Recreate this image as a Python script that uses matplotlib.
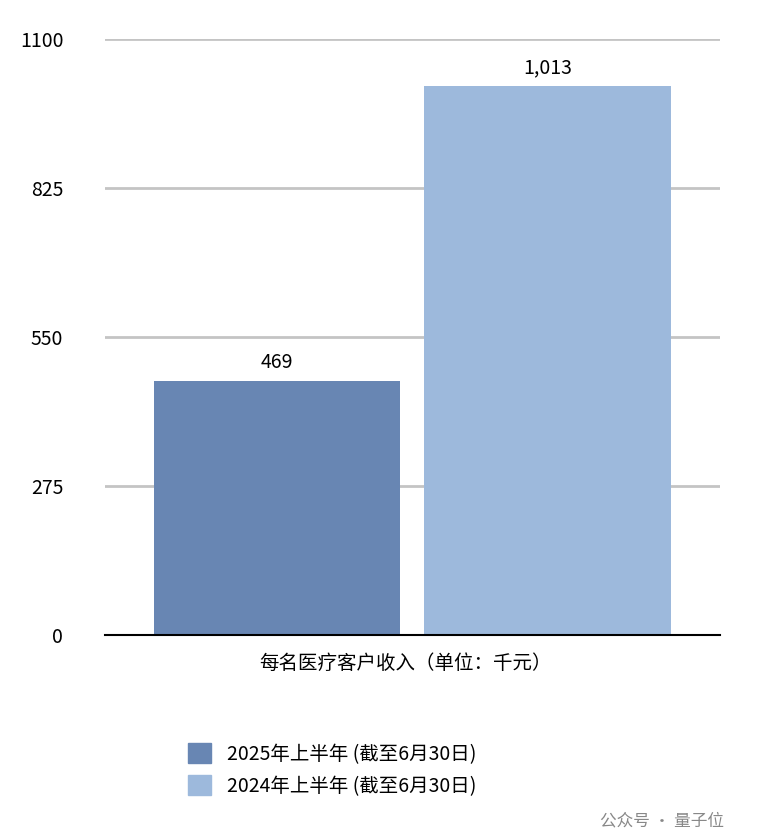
import matplotlib.pyplot as plt
from matplotlib.patches import Patch

plt.rcParams['font.family'] = ['Noto Sans CJK SC', 'DejaVu Sans']

series = ['2025年上半年 (截至6月30日)', '2024年上半年 (截至6月30日)']
values = [469, 1013]
value_labels = ['469', '1,013']
colors = ['#6886b3', '#9db9dc']
category = '每名医疗客户收入（单位：千元）'
yticks = [0, 275, 550, 825, 1100]

fig = plt.figure(figsize=(7.58, 8.38), dpi=100)
ax = fig.add_axes([0.1385, 0.2422, 0.8115, 0.7113])

pos = list(range(len(values)))
bars = ax.bar(pos, values, width=0.91, color=colors, zorder=3)
for b, lab in zip(bars, value_labels):
    ax.text(b.get_x() + b.get_width() / 2, b.get_height() + 15, lab,
            ha='center', va='bottom', fontsize=14)

ax.set_xlim(-0.636, 1.638)
ax.set_ylim(0, 1100)
ax.set_yticks(yticks)
ax.set_yticklabels([str(t) for t in yticks], fontsize=14)
ax.tick_params(axis='y', length=0, pad=30)
ax.set_xticks([])
ax.grid(axis='y', color='#c4c4c4', linewidth=2, zorder=0)
for s in ['top', 'right', 'left']:
    ax.spines[s].set_visible(False)
ax.spines['bottom'].set_linewidth(1.5)
ax.spines['bottom'].set_zorder(4)

fig.text(0.535, 0.208, category, ha='center', va='center', fontsize=14)

handles = [Patch(color=c) for c in colors]
fig.legend(handles, series, loc='center left', bbox_to_anchor=(0.225, 0.92 - 0.92 + 0.081),
           frameon=False, fontsize=14, handlelength=1.2, handleheight=1.2,
           labelspacing=0.55, handletextpad=0.8)

fig.text(0.955, 0.02, '公众号 · 量子位', ha='right', va='center', fontsize=12, color='#888888')

fig.savefig('out.png', dpi=100)
